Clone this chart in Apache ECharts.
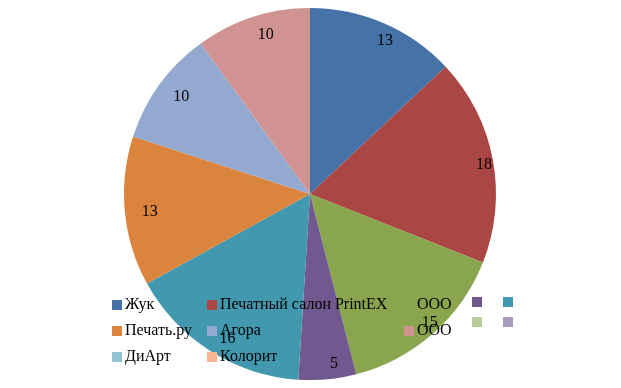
<!DOCTYPE html>
<html><head><meta charset="utf-8">
<script src="https://cdn.jsdelivr.net/npm/echarts@6/dist/echarts.min.js"></script>
<style>html,body{margin:0;padding:0;background:#fff}#c{width:621px;height:388px}</style>
</head><body><div id="c"></div>
<script>
const categories = ['Жук', 'Печатный салон PrintEX', 'ООО', '', '', 'Печать.ру', 'Агора', 'ООО', '', '', 'ДиАрт', 'Колорит'];
const values = [13, 18, 15, 5, 16, 13, 10, 10, 0, 0, 0, 0];
const colors = ['#4572A7', '#AA4643', '#89A54E', '#71588F', '#4198AF', '#DB843D', '#93A9CF', '#D19392', '#B9CD96', '#A99BBD', '#92C3D4', '#F9B590'];

// unique internal keys (display text is trimmed)
const keys = categories.map((c, i) => c + ' '.repeat(i + 1));
const data = keys.map((k, i) => ({ name: k, value: values[i], itemStyle: { color: colors[i] } }));

const columns = [[0, 5, 10], [1, 6, 11], [2, 7], [3, 8], [4, 9]];
const colLeft = [112, 207, 404, 472, 503];
const legends = columns.map((col, ci) => ({
  orient: 'vertical',
  left: colLeft[ci],
  top: 297,
  itemWidth: 10,
  itemHeight: 10,
  itemGap: 10,
  icon: 'rect',
  padding: 0,
  selectedMode: false,
  data: col.map(i => keys[i]),
  formatter: n => n.trim(),
  textStyle: { fontFamily: 'Liberation Serif', fontSize: 16, lineHeight: 16, color: '#000', padding: [0, 0, 0, -2] }
}));

const chart = echarts.init(document.getElementById('c'), null, { renderer: 'canvas' });
chart.setOption({
  animation: false,
  legend: legends,
  series: [
    {
      type: 'pie',
      center: [310, 194],
      radius: [0, 186],
      startAngle: 90,
      clockwise: true,
      silent: true,
      label: { show: false },
      labelLine: { show: false },
      data: data
    },
    {
      type: 'pie',
      center: [310, 194],
      radius: [148, 184],
      startAngle: 90,
      clockwise: true,
      silent: true,
      itemStyle: { color: 'rgba(0,0,0,0)' },
      label: {
        show: true,
        position: 'inside',
        offset: [8, 2],
        formatter: p => (p.value ? String(p.value) : ''),
        fontFamily: 'Liberation Serif',
        fontSize: 16,
        color: '#000'
      },
      labelLine: { show: false },
      data: keys.map((k, i) => ({ name: k, value: values[i], itemStyle: { color: 'rgba(0,0,0,0)' } }))
    }
  ]
});
</script></body></html>
